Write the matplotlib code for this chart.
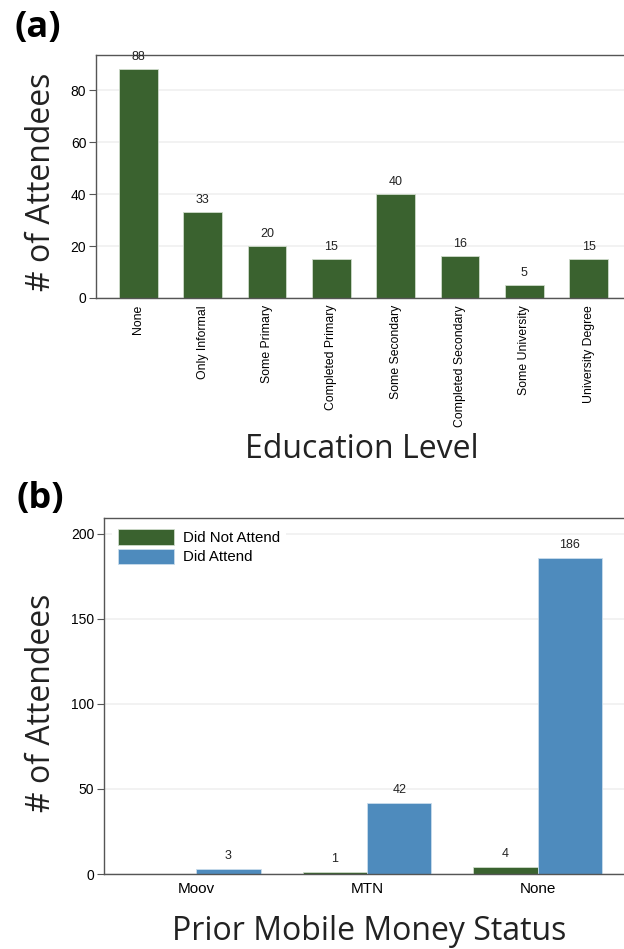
import numpy as np
import matplotlib
matplotlib.use("Agg")
import matplotlib.pyplot as plt

# Panel (a): education level
edu_levels = ["None", "Only Informal", "Some Primary", "Completed Primary",
              "Some Secondary", "Completed Secondary", "Some University",
              "University Degree"]
edu_counts = [88, 33, 20, 15, 40, 16, 5, 15]

# Panel (b): prior mobile money status
mm_status = ["Moov", "MTN", "None"]
did_not_attend = [0, 1, 4]
did_attend = [3, 42, 186]

GREEN = "#3a622f"
BLUE = "#4e8bbd"
SPINE = "#555555"
GRID = "#f0f0f0"
BIG_FONT = "Open Sans"
SMALL_FONT = "Liberation Sans"

W, H = 624, 949
fig = plt.figure(figsize=(W / 100, H / 100), dpi=100)


def style_axes(ax):
    for side in ["left", "top", "bottom", "right"]:
        ax.spines[side].set_color(SPINE)
        ax.spines[side].set_linewidth(1.0)
    ax.tick_params(axis="y", length=5, width=0.8, color=SPINE, labelsize=10,
                   pad=2)
    ax.tick_params(axis="x", length=0)
    ax.yaxis.grid(True, color=GRID, linewidth=1.2)
    ax.set_axisbelow(True)
    for lab in ax.get_yticklabels():
        lab.set_fontfamily(SMALL_FONT)


# ---- panel (a)
a_l, a_r, a_t, a_b = 96, 631, 55, 298
ax1 = fig.add_axes([a_l / W, 1 - a_b / H, (a_r - a_l) / W, (a_b - a_t) / H])
x = np.arange(len(edu_levels))
ax1.bar(x, edu_counts, width=0.6, color=GREEN, edgecolor="#cfdccb",
        linewidth=0.6)
for xi, v in zip(x, edu_counts):
    ax1.text(xi, v + 2.4, str(v), ha="center", va="bottom", fontsize=9,
             family=SMALL_FONT, color="#222222")
ax1.set_xlim(-0.66, 7.66)
ax1.set_ylim(0, 93.5)
ax1.set_yticks([0, 20, 40, 60, 80])
ax1.set_xticks(x)
ax1.set_xticklabels(edu_levels, rotation=90, fontsize=8.8, family=SMALL_FONT,
                    va="top")
ax1.tick_params(axis="x", pad=5)
style_axes(ax1)
ax1.set_ylabel("# of Attendees", fontsize=23, family=BIG_FONT,
               color="#222222")
ax1.yaxis.set_label_coords((58 - a_l) / (a_r - a_l), (a_b - 181.5) / (a_b - a_t))
ax1.set_xlabel("Education Level", fontsize=23, family=BIG_FONT,
               color="#222222")
ax1.xaxis.set_label_coords((361.5 - a_l) / (a_r - a_l), -(433 - a_b) / (a_b - a_t))

fig.text(15 / W, 1 - 28 / H, "(a)", fontsize=26, fontweight="bold",
         family=BIG_FONT, va="center", ha="left")

# ---- panel (b)
b_l, b_r, b_t, b_b = 104, 630, 518, 874
ax2 = fig.add_axes([b_l / W, 1 - b_b / H, (b_r - b_l) / W, (b_b - b_t) / H])
xb = np.arange(len(mm_status))
bw = 0.377
ax2.bar(xb - bw / 2, did_not_attend, width=bw, color=GREEN,
        edgecolor="#cfdccb", linewidth=0.6, label="Did Not Attend")
ax2.bar(xb + bw / 2, did_attend, width=bw, color=BLUE,
        edgecolor="#c9dcec", linewidth=0.6, label="Did Attend")
for xi, v in zip(xb, did_not_attend):
    if v > 0:
        ax2.text(xi - bw / 2, v + 4, str(v), ha="center", va="bottom",
                 fontsize=9, family=SMALL_FONT, color="#222222")
for xi, v in zip(xb, did_attend):
    ax2.text(xi + bw / 2, v + 4, str(v), ha="center", va="bottom",
             fontsize=9, family=SMALL_FONT, color="#222222")
ax2.set_xlim(-0.54, 2.54)
ax2.set_ylim(0, 209.4)
ax2.set_yticks([0, 50, 100, 150, 200])
ax2.set_xticks(xb)
ax2.set_xticklabels(mm_status, fontsize=11, family=SMALL_FONT)
ax2.tick_params(axis="x", pad=6)
style_axes(ax2)
ax2.set_ylabel("# of Attendees", fontsize=23, family=BIG_FONT,
               color="#222222")
ax2.yaxis.set_label_coords((58 - b_l) / (b_r - b_l), (b_b - 703) / (b_b - b_t))
ax2.set_xlabel("Prior Mobile Money Status", fontsize=23, family=BIG_FONT,
               color="#222222")
ax2.xaxis.set_label_coords((369 - b_l) / (b_r - b_l), -(915 - b_b) / (b_b - b_t))
leg = ax2.legend(loc="upper left", bbox_to_anchor=(0.01, 0.995), frameon=True,
                 prop={"family": SMALL_FONT, "size": 10.8}, handlelength=3.7,
                 handleheight=1.25, handletextpad=0.6, labelspacing=0.25,
                 borderaxespad=0.2)
leg.get_frame().set_edgecolor("white")
leg.get_frame().set_facecolor("white")
leg.get_frame().set_alpha(1.0)
leg.get_frame().set_linewidth(0)

fig.text(16 / W, 1 - 499 / H, "(b)", fontsize=26, fontweight="bold",
         family=BIG_FONT, va="center", ha="left")

fig.savefig("out.png", dpi=100, facecolor="white")
